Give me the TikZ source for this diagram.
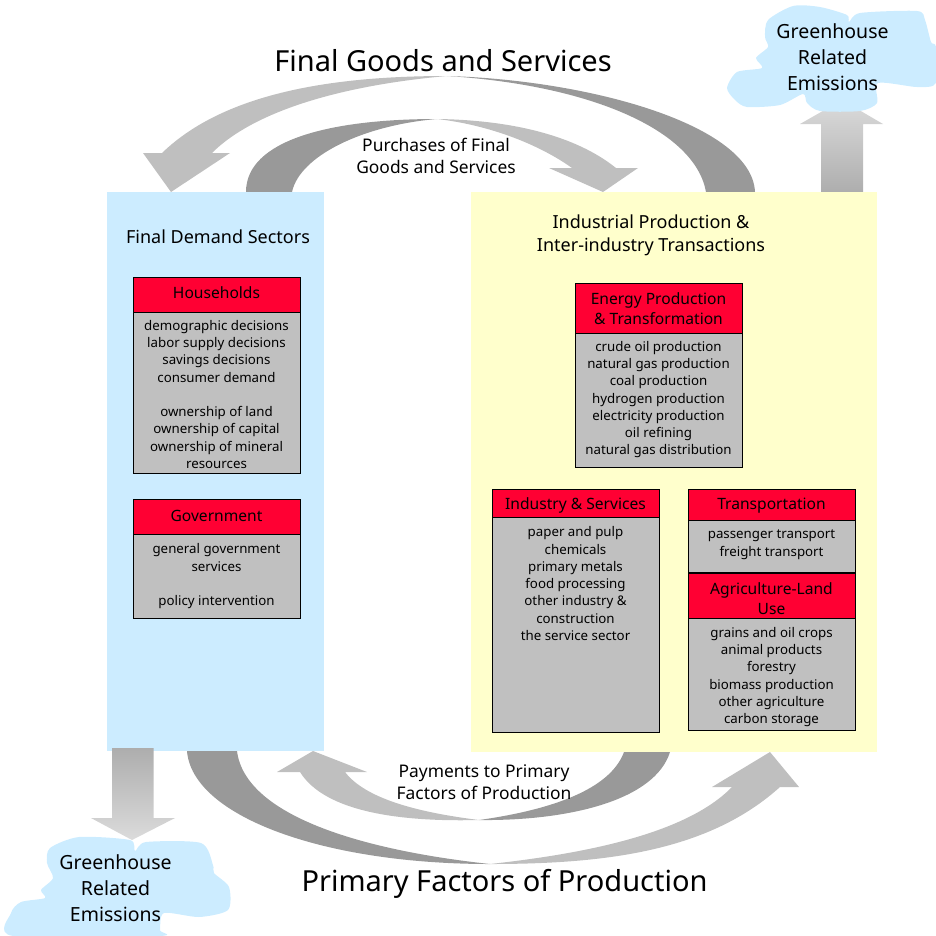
\documentclass[tikz,border=0pt]{standalone}
\usepackage{fontspec}
\setmainfont{Noto Sans}
\definecolor{panelblue}{HTML}{CCECFF}
\definecolor{panelyellow}{HTML}{FFFFCC}
\definecolor{headred}{HTML}{FF0033}
\definecolor{bodygray}{HTML}{C0C0C0}
\definecolor{arcdark}{HTML}{999999}
\definecolor{arclight}{HTML}{BFBFBF}
\tikzset{
  headbox/.style={draw=black,line width=.6pt,fill=headred,inner sep=0pt},
  headtext/.style={inner sep=0pt,align=center,font=\fontsize{15.6}{20}\selectfont},
  bodybox/.style={draw=black,line width=.6pt,fill=bodygray,inner sep=0pt},
  bodytext/.style={anchor=north,inner sep=0pt,align=center,font=\fontsize{13.3}{17.25}\selectfont},
  bigtitle/.style={inner sep=0pt,font=\fontsize{29}{34}\selectfont},
  midlabel/.style={inner sep=0pt,align=center,font=\fontsize{17.4}{22.5}\selectfont},
  widelabel/.style={inner sep=0pt,align=center,font=\fontsize{18}{23}\selectfont},
  cloudlabel/.style={inner sep=0pt,align=center,font=\fontsize{19.5}{26}\selectfont},
  cloudshape/.style={fill=panelblue,draw=none},
}
\begin{document}
\begin{tikzpicture}[x=1pt,y=-1pt]
\useasboundingbox (0,0) rectangle (936,935);
% up arrow
\shade[top color=black!14,bottom color=black!32] (821,193) -- (821,124) -- (800,124) -- (842,100) -- (883,124) -- (863,124) -- (863,193) -- cycle;
% arcs top
\fill[arclight] (447,76) .. controls (335,76) and (225,92) .. (162,153) -- (143,153) -- (171,192) -- (230,153) -- (212,153) .. controls (255,110) and (345,85) .. (447,76) -- cycle;
\fill[arcdark] (447,76) .. controls (590,80) and (752,125) .. (755,192) -- (706,192) .. controls (695,130) and (590,85) .. (447,76) -- cycle;
\fill[arcdark] (437,119) .. controls (330,119) and (246,140) .. (246,192) -- (292,192) .. controls (300,155) and (365,125) .. (437,119) -- cycle;
\fill[arclight] (437,119) .. controls (510,120) and (575,135) .. (616,168) -- (638,168) -- (603,192) -- (549,168) -- (572,168) .. controls (540,145) and (490,125) .. (437,119) -- cycle;
% panels
\node[fill=panelblue,minimum width=217pt,minimum height=559pt,inner sep=0pt,anchor=north west] (demand) at (107,192) {};
\node[fill=panelyellow,minimum width=406pt,minimum height=560pt,inner sep=0pt,anchor=north west] (industrial) at (471,192) {};
% bottom arcs
\fill[arcdark] (187,751) .. controls (192,815) and (320,864) .. (490,864) .. controls (360,850) and (245,815) .. (237,751) -- cycle;
\fill[arclight] (490,864) .. controls (610,864) and (710,850) .. (780,787) -- (799,787) -- (770,752) -- (712,787) -- (732,787) .. controls (690,830) and (600,852) .. (490,864) -- cycle;
\fill[arcdark] (670,752) .. controls (655,800) and (570,821) .. (479,820) .. controls (550,810) and (610,790) .. (624,752) -- cycle;
\fill[arclight] (479,820) .. controls (400,822) and (325,812) .. (300,772) -- (277,772) -- (313,751) -- (367,772) -- (345,772) .. controls (365,798) and (415,812) .. (479,820) -- cycle;
% down arrow
\shade[top color=black!32,bottom color=black!14] (112,748) -- (112,818) -- (91,818) -- (132,840) -- (175,818) -- (153.5,818) -- (153.5,748) -- cycle;
% clouds
\fill[cloudshape] plot[smooth cycle,tension=.45] coordinates {(727,88)(737,72)(762,68)(756,58)(768,47)(765,37)(768,20)(793,6)(820,7)(847,15)(849,22)(860,13)(917,11)(925,20)(931,42)(936,47)(936,83)(917,87)(878,83)(877,103)(860,111)(820,111)(807,103)(803,94)(780,105)(747,107)(735,100)};
\fill[cloudshape] plot[smooth cycle,tension=.45] coordinates {(79,837)(130,840)(135,851)(146,842)(201,843)(213,865)(214,873)(229,887)(228,910)(199,917)(164,913)(160,930)(159,936)(13,936)(11,913)(21,902)(45,898)(41,890)(53,878)(47,863)(50,848)};
% labels
\node[bigtitle] (fg) at (443,61) {Final Goods and Services};
\node[bigtitle] (pf) at (504.5,884) {Primary Factors of Production};
\node[midlabel] (purch) at (436,156) {Purchases of Final\\Goods and Services};
\node[midlabel] (pay) at (484,782) {Payments to Primary\\Factors of Production};
\node[cloudlabel] (c1) at (832.5,57) {Greenhouse\\Related\\Emissions};
\node[cloudlabel] (c2) at (115.5,888) {Greenhouse\\Related\\Emissions};
\node[widelabel] (fd) at (218,237) {Final Demand Sectors};
\node[widelabel] (ip) at (651,235.5) {Industrial Production \&\\Inter-industry Transactions};
% Households
\draw[bodybox] (133,312) rectangle (300,473);
\node[headbox,minimum width=167pt,minimum height=35pt,anchor=north west] (hh) at (133,277) {};
\node[headtext] (hhl) at (216.5,293) {Households};
\node[bodytext] (hht) at (216.5,320) {demographic decisions\\labor supply decisions\\savings decisions\\consumer demand\\[17.25pt]ownership of land\\ownership of capital\\ownership of mineral\\resources};
% Government
\draw[bodybox] (133,534) rectangle (300,618);
\node[headbox,minimum width=167pt,minimum height=35pt,anchor=north west] (gov) at (133,499) {};
\node[headtext] (govl) at (216.5,516) {Government};
\node[bodytext] (govt) at (216.5,543.5) {general government\\services\\[17.25pt]policy intervention};
% Energy
\draw[bodybox] (575,333) rectangle (742,467);
\node[headbox,minimum width=167pt,minimum height=50pt,anchor=north west] (en) at (575,283) {};
\node[headtext] (enl) at (658.5,309) {Energy Production\\\& Transformation};
\node[bodytext] (ent) at (658.5,341) {crude oil production\\natural gas production\\coal production\\hydrogen production\\electricity production\\oil refining\\natural gas distribution};
% Industry
\draw[bodybox] (492,517) rectangle (659,732);
\node[headbox,minimum width=167pt,minimum height=28pt,anchor=north west] (ind) at (492,489) {};
\node[headtext] (indl) at (575.5,505) {Industry \& Services};
\node[bodytext] (indt) at (575.5,526.5) {paper and pulp\\chemicals\\primary metals\\food processing\\other industry \&\\construction\\the service sector};
% Transportation
\draw[bodybox] (688,520) rectangle (855,572);
\node[headbox,minimum width=167pt,minimum height=31pt,anchor=north west] (tr) at (688,489) {};
\node[headtext] (trl) at (771.5,506) {Transportation};
\node[bodytext] (trt) at (771.5,530) {passenger transport\\freight transport};
% Agriculture
\draw[bodybox] (688,618) rectangle (855,730);
\node[headbox,minimum width=167pt,minimum height=45pt,anchor=north west] (ag) at (688,573) {};
\node[headtext] (agl) at (771.5,598.5) {Agriculture-Land\\Use};
\node[bodytext] (agt) at (771.5,627) {grains and oil crops\\animal products\\forestry\\biomass production\\other agriculture\\carbon storage};
\end{tikzpicture}
\end{document}
